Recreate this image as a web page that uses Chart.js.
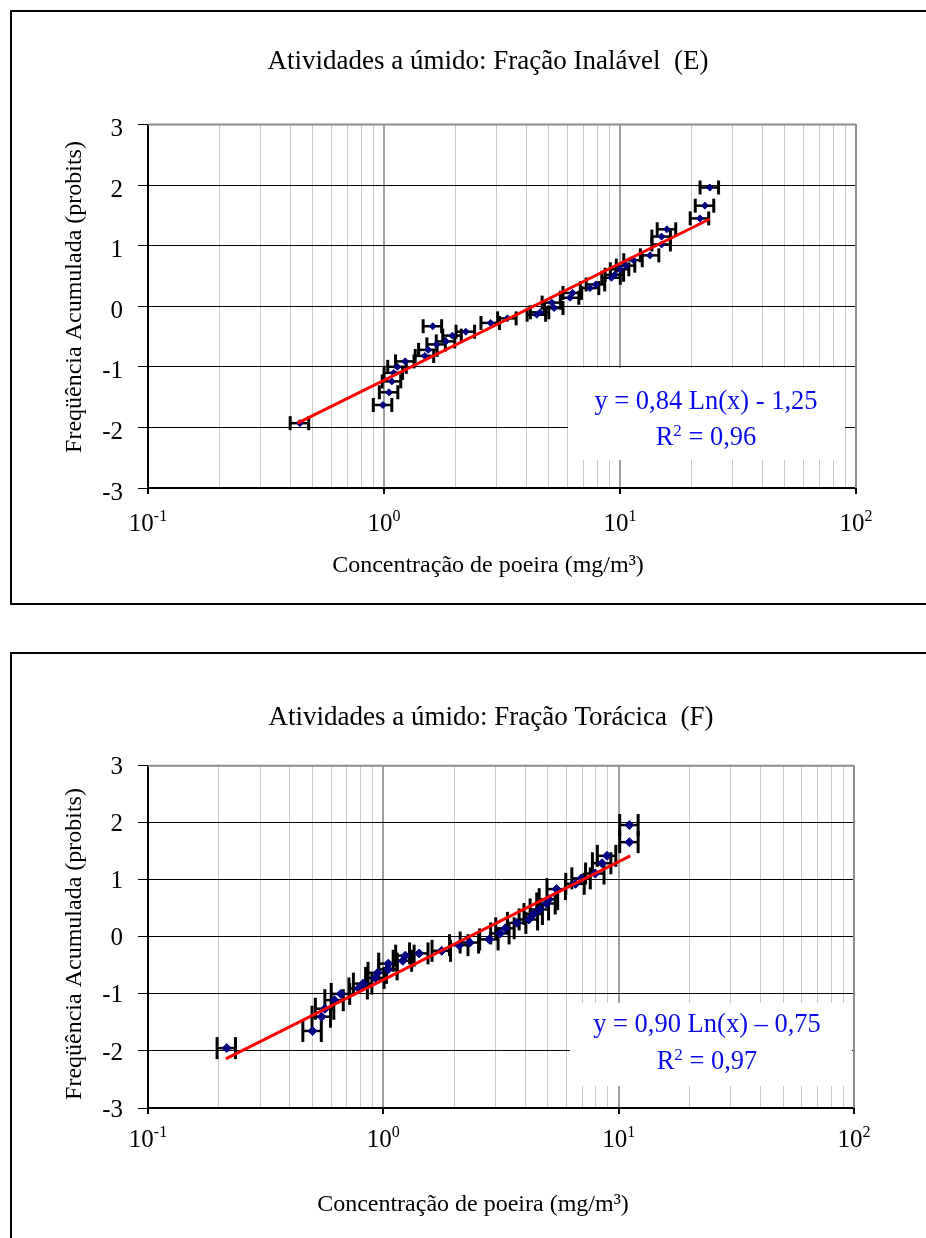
<!DOCTYPE html>
<html>
<head>
<meta charset="utf-8">
<script src="https://cdn.jsdelivr.net/npm/chart.js@4/dist/chart.umd.min.js"></script>
<style>
  html, body { margin: 0; padding: 0; background: #fff; }
  body { width: 926px; height: 1238px; position: relative; overflow: hidden; }
  canvas { position: absolute; left: 0; }
  .frame { position: absolute; border: 2px solid #000; box-sizing: border-box; pointer-events: none; }
</style>
</head>
<body>
<canvas id="c1" width="926" height="620" style="top:0px"></canvas>
<canvas id="c2" width="926" height="608" style="top:630px"></canvas>
<div class="frame" style="left:10px; top:10px; width:960px; height:595px;"></div>
<div class="frame" style="left:10px; top:652px; width:960px; height:700px;"></div>
<script>
// ---------- DATA ----------
const titleE = 'Atividades a úmido: Fração Inalável  (E)';
const titleF = 'Atividades a úmido: Fração Torácica  (F)';
const yTitle = 'Freqüência Acumulada (probits)';
const xTitle = 'Concentração de poeira (mg/m³)';
const yTicks = [-3, -2, -1, 0, 1, 2, 3];
const xDecades = [0.1, 1, 10, 100];
const xTickExponents = ['-1', '0', '1', '2'];
const xGridValues = [0.1,0.2,0.3,0.4,0.5,0.6,0.7,0.8,0.9,1,2,3,4,5,6,7,8,9,10,20,30,40,50,60,70,80,90,100];

// Inhalable fraction (E)
const inalavelX = [0.44, 0.99, 1.05, 1.08, 1.10, 1.14, 1.23, 1.49, 1.54, 1.61, 1.67, 1.83, 1.95, 2.22, 2.83, 3.33,
  4.44, 4.58, 5.14, 5.26, 6.14, 6.30, 7.46, 7.90, 9.2, 9.5, 10.0, 10.6, 11.4, 13.4, 15.0, 15.0, 15.8, 21.8, 22.9, 24.0];
const inalavelY = [-1.93, -1.63, -1.42, -1.24, -1.10, -1.00, -0.91, -0.82, -0.72, -0.33, -0.63, -0.58, -0.485, -0.42, -0.275, -0.20,
  -0.14, -0.10, 0.06, -0.03, 0.14, 0.22, 0.30, 0.36, 0.47, 0.52, 0.61, 0.67, 0.76, 0.84, 1.02, 1.15, 1.27, 1.45, 1.66, 1.96];
const inalavelTrendX = [0.43, 24.0];
const inalavelTrendY = [-1.93, 1.44];
const inalavelErr = 0.09;
const inalavelEq = 'y = 0,84 Ln(x) - 1,25';
const inalavelR2 = '0,96';

// Thoracic fraction (F)
const toracicaX = [0.216, 0.50, 0.547, 0.565, 0.62, 0.66, 0.785, 0.82, 0.924, 0.946, 1.05, 1.05, 1.21, 1.24, 1.42, 1.77, 2.10, 2.33,
  2.82, 3.14, 3.30, 3.70, 4.15, 4.35, 4.62, 4.93, 5.05, 5.45, 6.55, 6.95, 7.95, 8.5, 8.92, 11.1, 11.1];
const toracicaY = [-1.95, -1.65, -1.40, -1.26, -1.11, -1.00, -0.905, -0.82, -0.72, -0.63, -0.57, -0.47, -0.42, -0.33, -0.29, -0.245, -0.146, -0.10,
  -0.045, 0.06, 0.15, 0.245, 0.305, 0.40, 0.48, 0.585, 0.66, 0.837, 0.93, 1.025, 1.11, 1.29, 1.42, 1.66, 1.96];
const toracicaTrendX = [0.214, 11.2];
const toracicaTrendY = [-2.14, 1.42];
const toracicaErr = 0.09;
const toracicaEq = 'y = 0,90 Ln(x) – 0,75';
const toracicaR2 = '0,97';

// ---------- RENDERING ----------
const SERIF = '"Liberation Serif", "Times New Roman", "DejaVu Serif", serif';
const isDecade = v => Math.abs(Math.log10(v) - Math.round(Math.log10(v))) < 1e-9;

function line(ctx, x1, y1, x2, y2) { ctx.beginPath(); ctx.moveTo(x1, y1); ctx.lineTo(x2, y2); ctx.stroke(); }

const decor = {
  id: 'decor',
  beforeDatasetsDraw(chart) {
    const o = chart.options.plugins.decor, ctx = chart.ctx, ca = chart.chartArea;
    const xs = chart.scales.x, ys = chart.scales.y;
    ctx.save();
    ctx.fillStyle = '#fff';
    ctx.fillRect(o.box[0], o.box[1], o.box[2], o.box[3]);
    ctx.strokeStyle = '#8c8c8c'; ctx.lineWidth = 2;
    line(ctx, ca.left, ca.top, ca.right, ca.top);
    line(ctx, ca.right, ca.top, ca.right, ca.bottom);
    ctx.strokeStyle = '#000';
    o.xs.forEach((v, i) => {
      const y = ys.getPixelForValue(o.ys[i]);
      const x1 = xs.getPixelForValue(v * (1 - o.err));
      const x2 = xs.getPixelForValue(v * (1 + o.err));
      ctx.lineWidth = 2.5;
      line(ctx, x1, y, x2, y);
      ctx.lineWidth = 3;
      line(ctx, x1, y - o.cap, x1, y + o.cap);
      line(ctx, x2, y - o.cap, x2, y + o.cap);
    });
    ctx.restore();
  },
  afterDraw(chart) {
    const o = chart.options.plugins.decor, ctx = chart.ctx;
    const xs = chart.scales.x;
    ctx.save();
    ctx.fillStyle = '#000';
    ctx.textBaseline = 'middle';
    ctx.textAlign = 'center';
    ctx.font = '27px ' + SERIF;
    ctx.fillText(o.title, o.titlePos[0], o.titlePos[1]);
    ctx.font = '24px ' + SERIF;
    ctx.fillText(xTitle, o.xTitlePos[0], o.xTitlePos[1]);
    ctx.save();
    ctx.translate(o.yTitlePos[0], o.yTitlePos[1]);
    ctx.rotate(-Math.PI / 2);
    ctx.fillText(yTitle, 0, 0);
    ctx.restore();
    ctx.textAlign = 'left';
    xDecades.forEach((v, i) => {
      const px = xs.getPixelForValue(v);
      ctx.font = '25px ' + SERIF;
      const wb = ctx.measureText('10').width;
      ctx.font = '16px ' + SERIF;
      const ws = ctx.measureText(xTickExponents[i]).width;
      const x0 = px - (wb + ws) / 2;
      ctx.font = '25px ' + SERIF;
      ctx.fillText('10', x0, o.xLabelY);
      ctx.font = '16px ' + SERIF;
      ctx.fillText(xTickExponents[i], x0 + wb, o.xLabelY - 7);
    });
    ctx.fillStyle = '#0a0ae6';
    ctx.textAlign = 'center';
    ctx.font = '26.5px ' + SERIF;
    ctx.fillText(o.eq, o.eqPos[0], o.eqPos[1]);
    const a = 'R', b = '2', c = ' = ' + o.r2;
    ctx.font = '26.5px ' + SERIF; const wa = ctx.measureText(a).width, wc = ctx.measureText(c).width;
    ctx.font = '17px ' + SERIF; const wb2 = ctx.measureText(b).width;
    let x = o.eqPos[0] - (wa + wb2 + wc) / 2;
    const y2 = o.eqPos[1] + o.eqGap;
    ctx.textAlign = 'left';
    ctx.font = '26.5px ' + SERIF; ctx.fillText(a, x, y2);
    ctx.font = '17px ' + SERIF; ctx.fillText(b, x + wa, y2 - 6);
    ctx.font = '26.5px ' + SERIF; ctx.fillText(c, x + wa + wb2, y2);
    ctx.restore();
  }
};

function makeChart(id, L, d) {
  const canvas = document.getElementById(id);
  const H = canvas.height;
  return new Chart(canvas, {
    type: 'scatter',
    data: {
      datasets: [
        {
          type: 'line',
          data: d.trendX.map((x, i) => ({ x, y: d.trendY[i] })),
          borderColor: '#ff0000', borderWidth: 3, pointRadius: 0, fill: false, tension: 0, order: 0
        },
        {
          type: 'scatter',
          data: d.xs.map((x, i) => ({ x, y: d.ys[i] })),
          pointStyle: 'rectRot', pointRadius: L.pointR,
          backgroundColor: '#000080', borderColor: '#000080', borderWidth: 1, order: 1
        }
      ]
    },
    options: {
      responsive: false, animation: false, devicePixelRatio: 1,
      layout: { padding: { left: 0, top: L.top, right: L.right, bottom: 0 } },
      plugins: {
        legend: { display: false }, tooltip: { enabled: false },
        decor: {
          xs: d.xs, ys: d.ys, err: d.err, cap: L.cap, box: L.box,
          title: d.title, titlePos: L.titlePos, xTitlePos: L.xTitlePos, yTitlePos: L.yTitlePos,
          xLabelY: L.xLabelY, eq: d.eq, r2: d.r2, eqPos: L.eqPos, eqGap: L.eqGap
        }
      },
      scales: {
        x: {
          type: 'logarithmic', min: 0.1, max: 100,
          afterBuildTicks: s => { s.ticks = xGridValues.map(v => ({ value: v, major: isDecade(v) })); },
          afterFit: s => { s.height = H - L.bottom; },
          ticks: { display: false },
          grid: {
            color: c => (c.tick && isDecade(c.tick.value)) ? '#a0a0a0' : '#c8c8c8',
            lineWidth: c => (c.tick && isDecade(c.tick.value)) ? 2 : 1,
            tickColor: c => (c.tick && isDecade(c.tick.value)) ? '#000' : 'rgba(0,0,0,0)',
            tickLength: 6, drawTicks: true
          },
          border: { color: '#000', width: 2 }
        },
        y: {
          type: 'linear', min: -3, max: 3,
          afterBuildTicks: s => { s.ticks = yTicks.map(v => ({ value: v })); },
          afterFit: s => { s.width = 148; },
          ticks: { color: '#000', font: { family: SERIF, size: 25 }, padding: 15, labelOffset: L.yLabelOffset, callback: v => String(v) },
          grid: {
            color: c => (c.tick && c.tick.value === 3) ? '#8c8c8c' : '#000',
            lineWidth: 1, tickLength: 10, tickColor: '#000'
          },
          border: { color: '#000', width: 2 }
        }
      }
    },
    plugins: [decor]
  });
}

makeChart('c1', {
  top: 124.5, right: 70, bottom: 488, pointR: 3.5, cap: 7, yLabelOffset: 5,
  box: [568, 368, 277, 92],
  titlePos: [488, 62], xTitlePos: [488, 566], yTitlePos: [75, 297], xLabelY: 524,
  eqPos: [706, 402], eqGap: 36
}, {
  xs: inalavelX, ys: inalavelY, trendX: inalavelTrendX, trendY: inalavelTrendY, err: inalavelErr,
  title: titleE, eq: inalavelEq, r2: inalavelR2
});

makeChart('c2', {
  top: 135.7, right: 72, bottom: 478, pointR: 4.5, cap: 11, yLabelOffset: 2,
  box: [570, 373, 282, 83],
  titlePos: [491, 88], xTitlePos: [473, 575], yTitlePos: [75, 314], xLabelY: 510,
  eqPos: [707, 395], eqGap: 37
}, {
  xs: toracicaX, ys: toracicaY, trendX: toracicaTrendX, trendY: toracicaTrendY, err: toracicaErr,
  title: titleF, eq: toracicaEq, r2: toracicaR2
});
</script>
</body>
</html>
